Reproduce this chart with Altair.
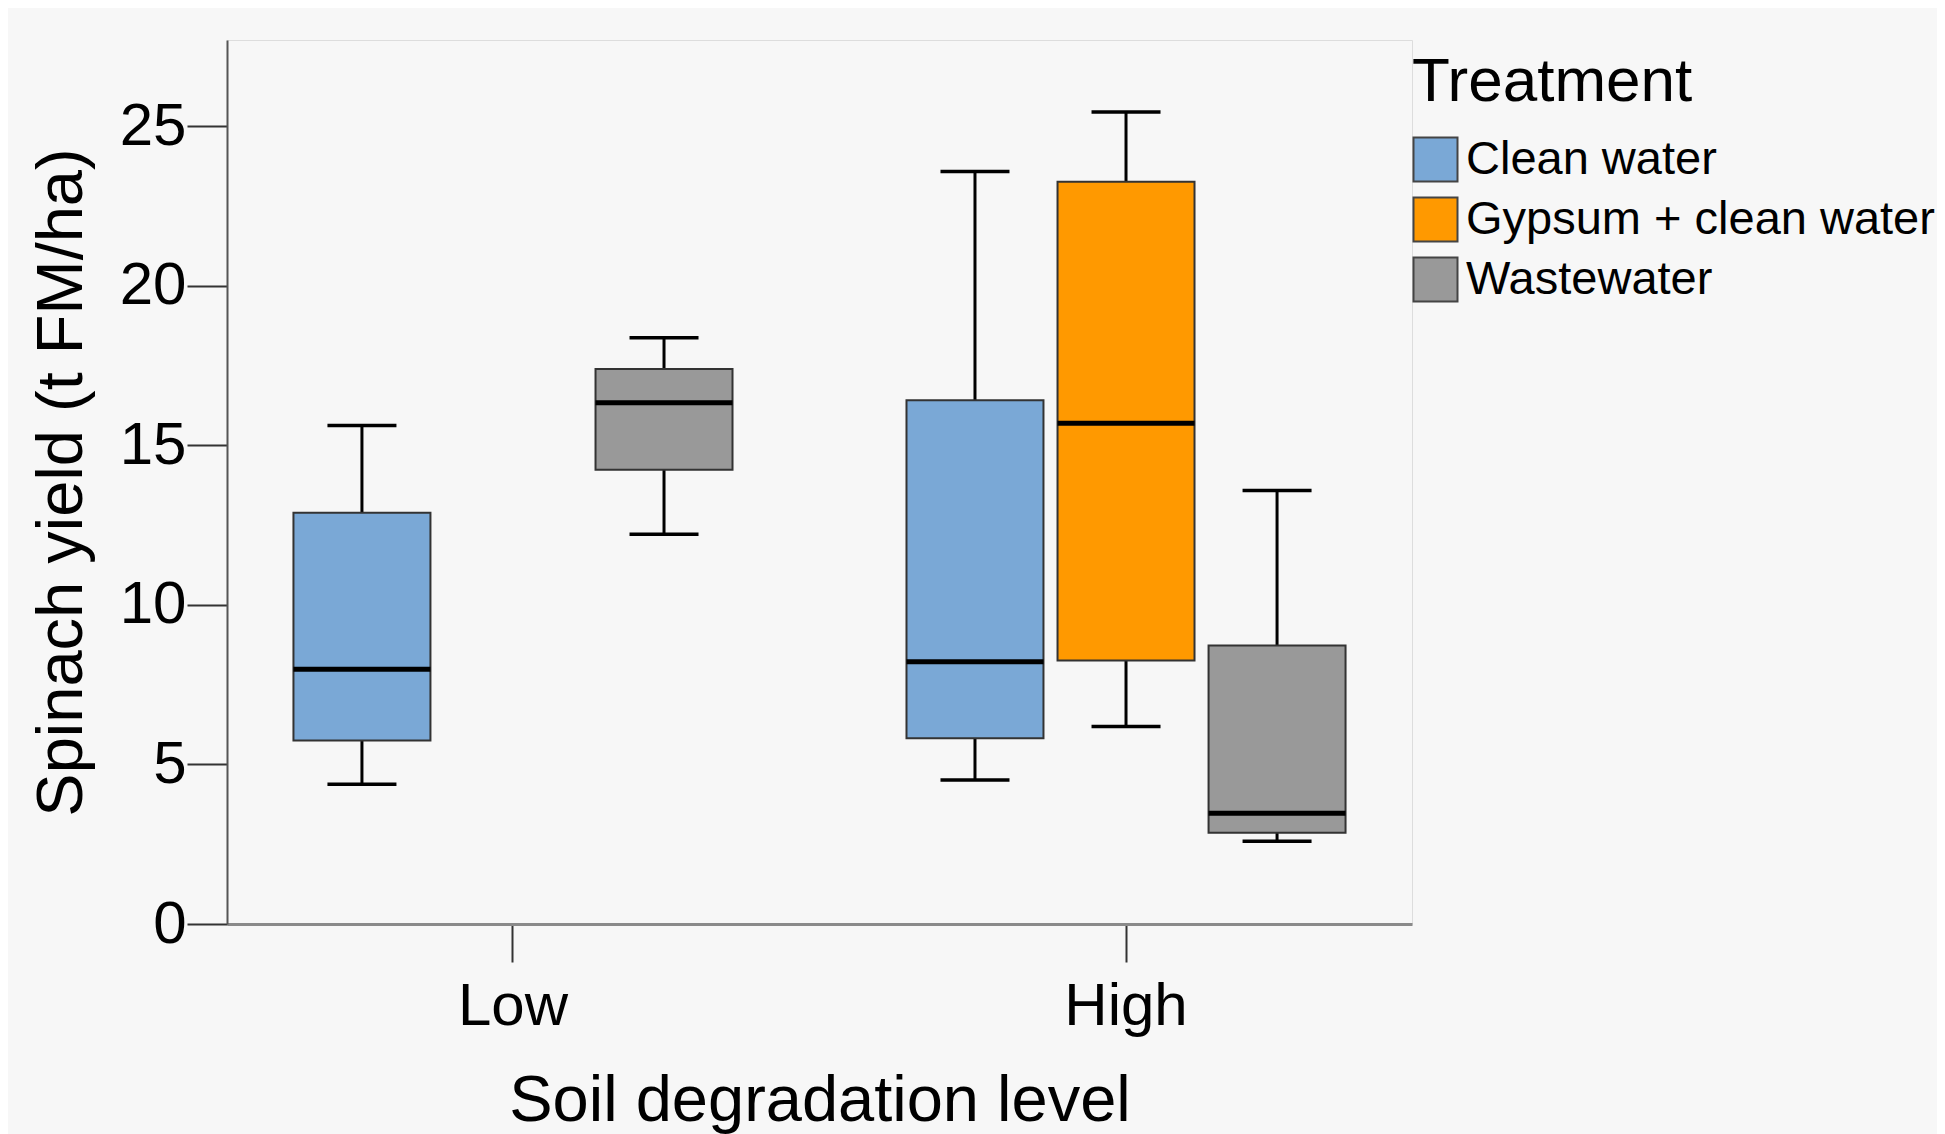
import altair as alt
import pandas as pd

# ---- data ----
levels = ["Low", "Low", "High", "High", "High"]
treatments = ["Clean water", "Wastewater", "Clean water", "Gypsum + clean water", "Wastewater"]
lower = [4.38, 12.21, 4.51, 6.19, 2.59]
q1 = [5.75, 14.23, 5.82, 8.26, 2.86]
median = [7.98, 16.33, 8.22, 15.69, 3.47]
q3 = [12.89, 17.39, 16.41, 23.26, 8.73]
upper = [15.62, 18.37, 23.58, 25.44, 13.58]

level_order = ["Low", "High"]
treat_order = ["Clean water", "Gypsum + clean water", "Wastewater"]
treat_colors = ["#7aa8d6", "#ff9900", "#999999"]
y_ticks = [0, 5, 10, 15, 20, 25]

df = pd.DataFrame({
    "level": levels, "treatment": treatments,
    "lower": lower, "q1": q1, "median": median, "q3": q3, "upper": upper,
})

FONT = "Liberation Sans"
W, H = 1185, 884

x_enc = alt.X(
    "level:N", sort=level_order,
    scale=alt.Scale(paddingInner=0.067, paddingOuter=0),
    title="Soil degradation level",
    axis=alt.Axis(labelAngle=0, labelFontSize=60, labelFont=FONT, labelColor="black",
                  tickSize=38, tickWidth=2, tickColor="#333333",
                  domainColor="#8a8a8a", domainWidth=3, labelPadding=15,
                  titleFontSize=65, titleFont=FONT, titleFontWeight="normal",
                  titleColor="black", titlePadding=33, grid=False),
)
xo_enc = alt.XOffset(
    "treatment:N", sort=treat_order,
    scale=alt.Scale(domain=treat_order, paddingInner=0.093, paddingOuter=0.44),
)
y_scale = alt.Scale(domain=[0, 27.7], nice=False, zero=True)
y_axis = alt.Axis(values=y_ticks, labelFontSize=60, labelFont=FONT, labelColor="black",
                  tickSize=40, tickWidth=2, tickColor="#333333",
                  domainColor="#555555", domainWidth=2, labelPadding=1,
                  titleFontSize=65, titleFont=FONT, titleFontWeight="normal",
                  titleColor="black", titlePadding=24, grid=False)
Y_TITLE = "Spinach yield (t FM/ha)"

base = alt.Chart(df)

whisk = base.mark_rule(color="black", strokeWidth=3, opacity=1).encode(
    x=x_enc, xOffset=xo_enc,
    y=alt.Y("lower:Q", scale=y_scale, axis=y_axis, title=Y_TITLE),
    y2="upper:Q",
)

box = base.mark_bar(stroke="#333333", strokeWidth=2, opacity=1).encode(
    x=x_enc, xOffset=xo_enc,
    y=alt.Y("q1:Q", scale=y_scale, axis=y_axis, title=Y_TITLE),
    y2="q3:Q",
    color=alt.Color(
        "treatment:N",
        scale=alt.Scale(domain=treat_order, range=treat_colors),
        legend=alt.Legend(
            title="Treatment", orient="none", legendX=1185, legendY=12,
            titleFontSize=62, titleFont=FONT, titleFontWeight="normal", titleColor="black",
            titlePadding=22, titleLimit=800, labelFontSize=47, labelFont=FONT,
            labelColor="black", labelLimit=800,
            labelOffset=7, symbolType="square", symbolSize=1936,
            symbolStrokeColor="#444444", symbolStrokeWidth=2, symbolOpacity=1,
            rowPadding=7, padding=0,
        ),
    ),
)

cap_lo = base.mark_tick(color="black", size=69, thickness=3.5, opacity=1).encode(
    x=x_enc, xOffset=xo_enc,
    y=alt.Y("lower:Q", scale=y_scale, axis=y_axis, title=Y_TITLE),
)
cap_hi = base.mark_tick(color="black", size=69, thickness=3.5, opacity=1).encode(
    x=x_enc, xOffset=xo_enc,
    y=alt.Y("upper:Q", scale=y_scale, axis=y_axis, title=Y_TITLE),
)
med = base.mark_tick(color="black", size=137, thickness=5, opacity=1).encode(
    x=x_enc, xOffset=xo_enc,
    y=alt.Y("median:Q", scale=y_scale, axis=y_axis, title=Y_TITLE),
)

chart = (
    alt.layer(whisk, box, cap_lo, cap_hi, med)
    .properties(
        width=W, height=H,
        autosize=alt.AutoSizeParams(type="none"),
        padding={"left": 219, "top": 32, "right": 525, "bottom": 230},
        background="#f7f7f7",
    )
    .configure_view(stroke=None)
    .configure(font=FONT)
)

chart.save("out.html", embed_options={"renderer": "svg", "actions": False})
